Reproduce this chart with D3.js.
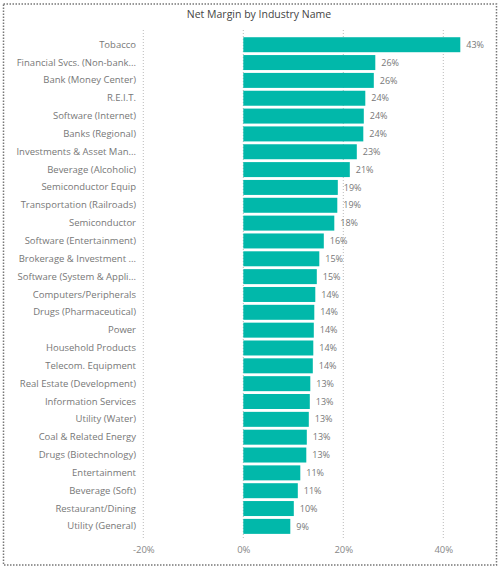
<!DOCTYPE html>
<html>
<head>
<meta charset="utf-8">
<script src="https://cdn.jsdelivr.net/npm/d3@7"></script>
<style>
  body { margin: 0; background: #fff; }
  text { font-family: "Open Sans", "Noto Sans", sans-serif; }
</style>
</head>
<body>
<div id="chart"></div>
<script>
// data
const industries = [
  "Tobacco", "Financial Svcs. (Non-bank...", "Bank (Money Center)", "R.E.I.T.",
  "Software (Internet)", "Banks (Regional)", "Investments & Asset Man...",
  "Beverage (Alcoholic)", "Semiconductor Equip", "Transportation (Railroads)",
  "Semiconductor", "Software (Entertainment)", "Brokerage & Investment ...",
  "Software (System & Appli...", "Computers/Peripherals", "Drugs (Pharmaceutical)",
  "Power", "Household Products", "Telecom. Equipment", "Real Estate (Development)",
  "Information Services", "Utility (Water)", "Coal & Related Energy",
  "Drugs (Biotechnology)", "Entertainment", "Beverage (Soft)",
  "Restaurant/Dining", "Utility (General)"
];
const netMargin = [
  43.4, 26.4, 26.1, 24.4, 24.1, 24.0, 22.7, 21.3, 18.9, 18.8,
  18.2, 16.1, 15.2, 14.7, 14.4, 14.2, 14.1, 14.0, 13.9, 13.4,
  13.3, 13.1, 12.7, 12.6, 11.4, 10.9, 10.1, 9.4
];
const xTicks = [-20, 0, 20, 40];

const W = 500, H = 567;

const svg = d3.select("#chart")
  .append("svg")
  .attr("width", W)
  .attr("height", H);

// visual frame
svg.append("rect")
  .attr("x", 3.5).attr("y", 4)
  .attr("width", 493).attr("height", 561)
  .attr("fill", "none")
  .attr("stroke", "#777")
  .attr("stroke-width", 1.5)
  .attr("stroke-dasharray", "1.5,1.5");

// Title
svg.append("text")
  .attr("x", 259)
  .attr("y", 18)
  .attr("text-anchor", "middle")
  .style("font-size", "10.5px")
  .style("fill", "#444")
  .text("Net Margin by Industry Name");

const x = d3.scaleLinear()
  .domain([-20, 60])
  .range([143.3, 543.3]);

const y = d3.scaleBand()
  .domain(industries)
  .range([35.8, 535.3])
  .paddingInner(0.16)
  .paddingOuter(0.08);

// gridlines
svg.append("g")
  .selectAll("line")
  .data(xTicks)
  .join("line")
    .attr("x1", d => x(d)).attr("x2", d => x(d))
    .attr("y1", 30).attr("y2", 538)
    .attr("stroke", "#bbb")
    .attr("stroke-width", 1)
    .attr("stroke-dasharray", "1,2");

// X axis (labels only)
const xAxis = svg.append("g")
  .attr("transform", "translate(0,538)")
  .call(d3.axisBottom(x).tickValues(xTicks).tickFormat(d => d + "%").tickSize(0).tickPadding(8));
xAxis.select(".domain").remove();
xAxis.selectAll("text")
  .style("font-size", "9.5px")
  .style("fill", "#888")
  .style("font-family", "\"Open Sans\", sans-serif");

// Y axis (category labels)
const yAxis = svg.append("g")
  .attr("transform", "translate(136,0)")
  .call(d3.axisLeft(y).tickSize(0).tickPadding(0));
yAxis.select(".domain").remove();
yAxis.selectAll("text")
  .style("font-size", "9.5px")
  .style("fill", "#777")
  .style("font-family", "\"Open Sans\", sans-serif");

// Bars
svg.append("g")
  .selectAll("rect")
  .data(netMargin)
  .join("rect")
    .attr("x", x(0))
    .attr("y", (d, i) => y(industries[i]))
    .attr("width", d => x(d) - x(0))
    .attr("height", y.bandwidth())
    .attr("fill", "#01B8AA");

// Value labels
svg.append("g")
  .selectAll("text")
  .data(netMargin)
  .join("text")
    .attr("x", d => x(d) + 6)
    .attr("y", (d, i) => y(industries[i]) + y.bandwidth() / 2)
    .attr("dy", "0.35em")
    .style("font-size", "9px")
    .style("fill", "#777")
    .text(d => Math.round(d) + "%");
</script>
</body>
</html>
